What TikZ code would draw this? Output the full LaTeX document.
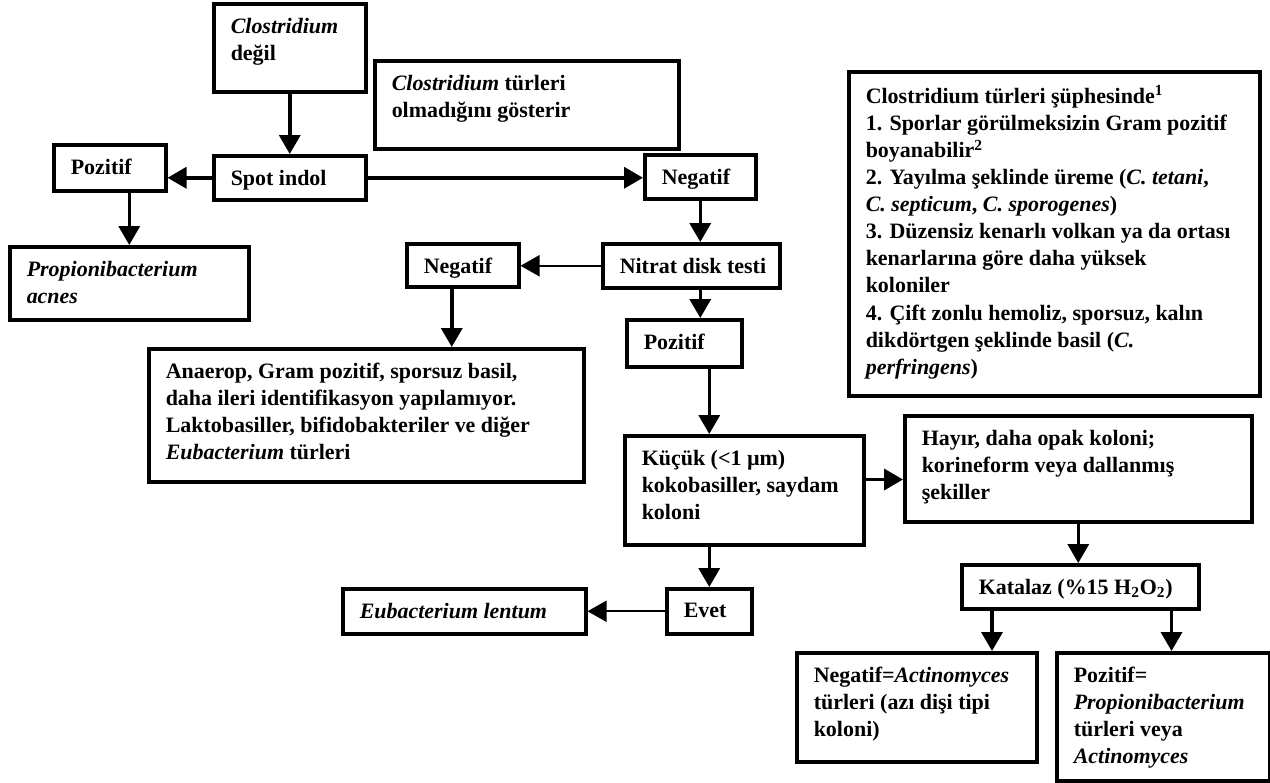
\documentclass[tikz,border=0pt]{standalone}
\usepackage{fontspec}
\setmainfont{Liberation Serif}
\usetikzlibrary{arrows.meta,calc}
\newlength\px
\setlength\px{0.02cm}
\newcommand\tb[3]{\parbox[c][#2\px][t]{#1\px}{\vspace*{14\px}\leftskip=17\px\rightskip=0pt plus 1fil #3\par}}
\tikzset{box/.style={draw,line width=2pt,inner sep=0pt,anchor=north west}}
\begin{document}
\begin{tikzpicture}[x=0.02cm,y=-0.02cm,>={Triangle[length=0.38cm,width=0.42cm]},
  con/.style={->,line width=2pt},thincon/.style={->,line width=1.1pt},
  every node/.style={font=\fontsize{12.5}{15.4}\selectfont\bfseries}]
 \useasboundingbox (0,0) rectangle (1270,782);
 \node[box] (degil) at (212,2) {\tb{152}{88}{\textit{Clostridium}\\ değil}};
 \node[box] (turleri) at (373,59) {\tb{304}{88}{\textit{Clostridium} türleri\\ olmadığını gösterir}};
 \node[box] (poz1) at (52,143) {\tb{112}{46}{Pozitif}};
 \node[box] (spot) at (212,154) {\tb{152}{44}{Spot indol}};
 \node[box] (neg1) at (643,153) {\tb{111}{44}{Negatif}};
 \node[box] (acnes) at (8,245) {\tb{239}{73}{\textit{Propionibacterium}\\ \textit{acnes}}};
 \node[box] (nitrat) at (601,242) {\tb{177}{44}{Nitrat disk testi}};
 \node[box] (neg2) at (405,242) {\tb{112}{43}{Negatif}};
 \node[box] (poz2) at (625,318) {\tb{115}{47}{Pozitif}};
 \node[box] (anaerop) at (147,347) {\tb{435}{133}{Anaerop, Gram pozitif, sporsuz basil,\\ daha ileri identifikasyon yapılamıyor.\\ Laktobasiller, bifidobakteriler ve diğer\\ \textit{Eubacterium} türleri}};
 \node[box] (supheli) at (847,70) {\tb{411}{324}{Clostridium türleri şüphesinde\textsuperscript{1}\\ 1. Sporlar görülmeksizin Gram pozitif\\ boyanabilir\textsuperscript{2}\\ 2. Yayılma şeklinde üreme (\textit{C. tetani},\\ \textit{C. septicum}, \textit{C. sporogenes})\\ 3. Düzensiz kenarlı volkan ya da ortası\\ kenarlarına göre daha yüksek\\ koloniler\\ 4. Çift zonlu hemoliz, sporsuz, kalın\\ dikdörtgen şeklinde basil (\textit{C.}\\ \textit{perfringens})}};
 \node[box] (kucuk) at (623,434) {\tb{239}{109}{Küçük (<1 µm)\\ kokobasiller, saydam\\ koloni}};
 \node[box] (hayir) at (903,414) {\tb{347}{106}{Hayır, daha opak koloni;\\ korineform veya dallanmış\\ şekiller}};
 \node[box] (katalaz) at (960,563) {\tb{237}{44}{Katalaz (\%15 H\textsubscript{2}O\textsubscript{2})}};
 \node[box] (evet) at (665,587) {\tb{85}{45}{Evet}};
 \node[box] (lentum) at (341,587) {\tb{243}{45}{\textit{Eubacterium lentum}}};
 \node[box] (negact) at (795,651) {\tb{240}{109}{Negatif=\textit{Actinomyces}\\ türleri (azı dişi tipi\\ koloni)}};
 \node[box] (pozprop) at (1055,651) {\tb{213}{128}{Pozitif=\\ \textit{Propionibacterium}\\ türleri veya\\ \textit{Actinomyces}}};
 \draw[con] (degil.south) -- (spot.north);
 \draw[con] (spot.west) -- (spot.west -| poz1.east);
 \draw[con] (spot.east) -- (spot.east -| neg1.west);
 \draw[con] (poz1.south -| acnes.north) -- (acnes.north);
 \draw[con] (neg1.south) -- (neg1.south |- nitrat.north);
 \draw[thincon] (nitrat.west) -- (nitrat.west -| neg2.east);
 \draw[con] ($(neg2.south)+(-11,0)$) -- ($(neg2.south |- anaerop.north)+(-11,0)$);
 \draw[con] (nitrat.south -| neg1.south) -- (poz2.north -| neg1.south);
 \draw[con] (poz2.south -| evet.north) -- (kucuk.north -| evet.north);
 \coordinate (kh) at ($(kucuk.east)!.5!(hayir.west)$);
 \draw[con] (kh -| kucuk.east) -- (kh -| hayir.west);
 \draw[con] (hayir.south) -- (hayir.south |- katalaz.north);
 \draw[con] (kucuk.south -| evet.north) -- (evet.north);
 \draw[thincon] (evet.west) -- (lentum.east);
 \draw[con] ($(katalaz.south west)+(32,0)$) -- ($(katalaz.south west |- negact.north)+(32,0)$);
 \draw[con] ($(katalaz.south east)+(-29,0)$) -- ($(katalaz.south east |- pozprop.north)+(-29,0)$);
\end{tikzpicture}
\end{document}
